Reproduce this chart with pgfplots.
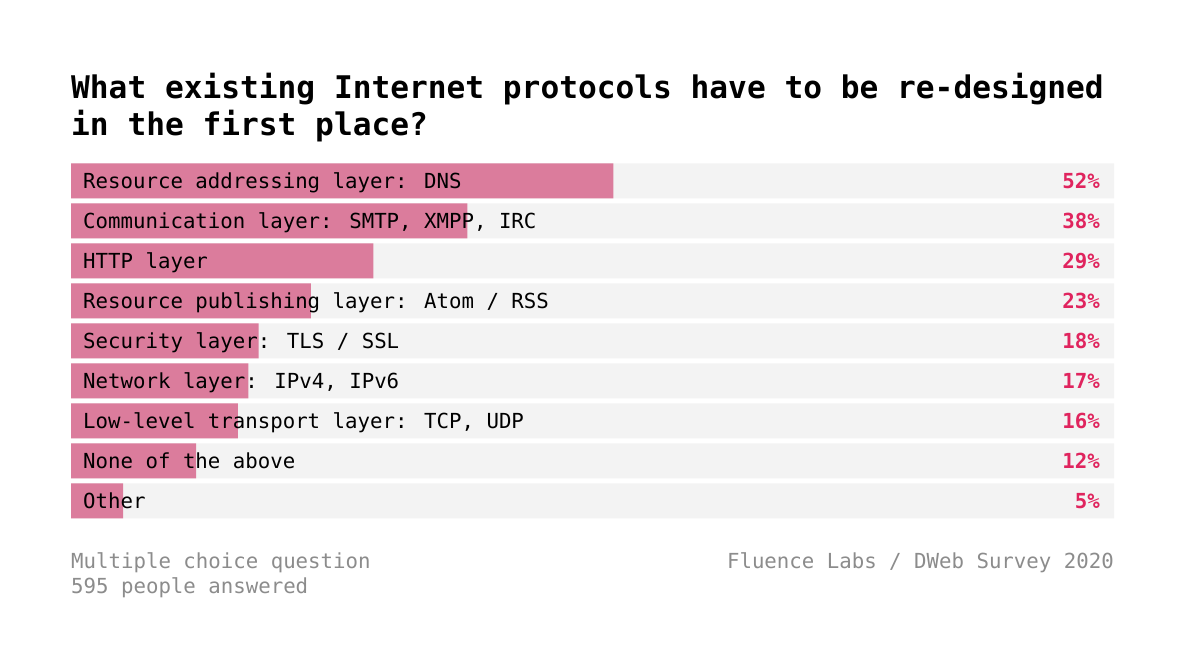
\documentclass[border=0pt]{standalone}
\usepackage{pgfplots}
\pgfplotsset{compat=1.18}
\usepackage{fontspec}
\setmainfont{DejaVu Sans Mono}
\setmonofont{DejaVu Sans Mono}
\definecolor{barpink}{RGB}{219,124,156}
\definecolor{bgbar}{RGB}{243,243,243}
\definecolor{pctred}{RGB}{224,36,94}
\definecolor{foot}{RGB}{140,140,140}
\begin{document}
\begin{tikzpicture}[x=1bp,y=1bp]
\path[fill=white] (0,0) rectangle (1185,672);
\node[anchor=base west,inner sep=0pt,font=\fontsize{31.3}{37}\selectfont\bfseries] at (71,573) {What existing Internet protocols have to be re-designed};
\node[anchor=base west,inner sep=0pt,font=\fontsize{31.3}{37}\selectfont\bfseries] at (71,536) {in the first place?};
\begin{axis}[
  at={(71bp,151bp)}, anchor=south west,
  scale only axis, width=1043bp, height=360bp,
  axis lines=none, xmin=0, xmax=100, ymin=-0.5, ymax=8.5,
  y dir=reverse, ticks=none, clip=false,
  xbar, bar width=35bp, bar shift=0pt,
]
\addplot[fill=bgbar, draw=none] coordinates {(100,0) (100,1) (100,2) (100,3) (100,4) (100,5) (100,6) (100,7) (100,8)};
\addplot[fill=barpink, draw=none] coordinates {(52,0) (38,1) (29,2) (23,3) (18,4) (17,5) (16,6) (12,7) (5,8)};
\foreach \i/\lab/\v in {0/{Resource addressing layer: DNS}/52, 1/{Communication layer: SMTP, XMPP, IRC}/38, 2/{HTTP layer}/29, 3/{Resource publishing layer: Atom / RSS}/23, 4/{Security layer: TLS / SSL}/18, 5/{Network layer: IPv4, IPv6}/17, 6/{Low-level transport layer: TCP, UDP}/16, 7/{None of the above}/12, 8/{Other}/5}{
  \edef\temp{\noexpand\node[anchor=base west, inner sep=0pt, xshift=12bp, yshift=-7.5bp, font=\noexpand\fontsize{20.8}{24}\noexpand\selectfont] at (axis cs:0,\i) {\lab};
  \noexpand\node[anchor=base east, inner sep=0pt, xshift=-14bp, yshift=-7.5bp, text=pctred, font=\noexpand\fontsize{20.8}{24}\noexpand\selectfont\noexpand\bfseries] at (axis cs:100,\i) {\v\noexpand\%};}
  \temp
}
\end{axis}
\node[anchor=base west,inner sep=0pt,text=foot,font=\fontsize{20.8}{25}\selectfont] at (71,103) {Multiple choice question};
\node[anchor=base west,inner sep=0pt,text=foot,font=\fontsize{20.8}{25}\selectfont] at (71,78) {595 people answered};
\node[anchor=base east,inner sep=0pt,text=foot,font=\fontsize{20.8}{25}\selectfont] at (1114,103) {Fluence Labs / DWeb Survey 2020};
\end{tikzpicture}
\end{document}
